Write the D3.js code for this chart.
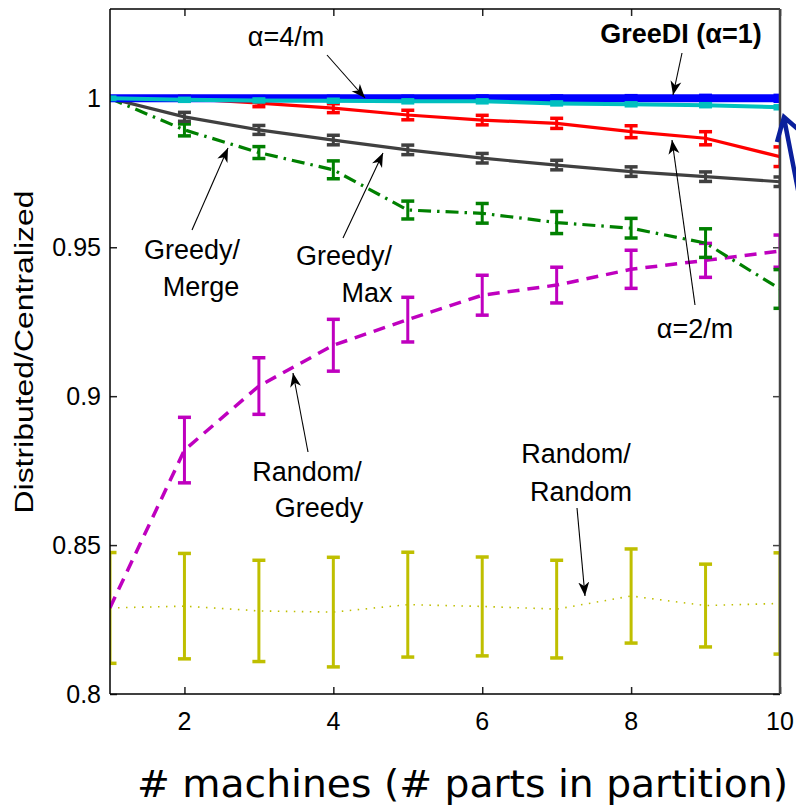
<!DOCTYPE html>
<html>
<head>
<meta charset="utf-8">
<script src="https://cdnjs.cloudflare.com/ajax/libs/d3/7.8.5/d3.min.js"></script>
<style>
	body { margin: 0; background: #fff; overflow: hidden; }
	text { font-family: 'Liberation Sans', Arial, sans-serif; }
</style>
</head>
<body>
<div id="chart"></div>
<script>
// Number of machines on the x axis
var machines = [1, 2, 3, 4, 5, 6, 7, 8, 9, 10];

// Mean ratio distributed/centralized and error bar half-heights, per method
var greeDIVals = [1.0, 1.0, 1.0, 1.0, 1.0, 1.0, 1.0, 1.0, 1.0, 1.0];
var greeDIErr = [0.0005, 0.0006, 0.0006, 0.0007, 0.0007, 0.0008, 0.0008, 0.0009, 0.001, 0.001];
var alpha4Vals = [1.0, 0.9995, 0.9993, 0.9992, 0.999, 0.999, 0.9983, 0.998, 0.9977, 0.997];
var alpha4Err = [0.0004, 0.0005, 0.0005, 0.0005, 0.0005, 0.0005, 0.0005, 0.0005, 0.0005, 0.0005];
var alpha2Vals = [1.0, 0.9999, 0.9984, 0.9967, 0.9944, 0.9927, 0.9916, 0.9888, 0.9866, 0.9804];
var alpha2Err = [0.0004, 0.0008, 0.0012, 0.0015, 0.0016, 0.0016, 0.0017, 0.002, 0.0022, 0.0033];
var greedyMaxVals = [1.0, 0.9938, 0.9894, 0.986, 0.9827, 0.9799, 0.9776, 0.9754, 0.9737, 0.972];
var greedyMaxErr = [0.0004, 0.0015, 0.0015, 0.0016, 0.0016, 0.0016, 0.0016, 0.0016, 0.0016, 0.0016];
var greedyMergeVals = [1.0, 0.9894, 0.9818, 0.976, 0.9625, 0.9614, 0.9583, 0.9564, 0.9514, 0.936];
var greedyMergeErr = [0.0004, 0.002, 0.002, 0.003, 0.003, 0.0033, 0.0037, 0.0033, 0.0048, 0.0065];
var randGreedyVals = [0.829, 0.8819, 0.9034, 0.9171, 0.9257, 0.9339, 0.9373, 0.9426, 0.9456, 0.9487];
var randGreedyErr = [0, 0.011, 0.0095, 0.0087, 0.0075, 0.0067, 0.006, 0.0064, 0.0057, 0.0054];
var randRandVals = [0.8289, 0.8295, 0.8279, 0.8275, 0.830, 0.8294, 0.8285, 0.8329, 0.8297, 0.8304];
var randRandErr = [0.0186, 0.0177, 0.017, 0.0184, 0.0176, 0.0166, 0.0164, 0.0158, 0.0139, 0.017];

// Tick values
var xTicks = [2, 4, 6, 8, 10];
var yTicks = [0.8, 0.85, 0.9, 0.95, 1];

// Set up svg width and height
var svgWidth = 796;
var svgHeight = 807;

// Plot box in pixels
var box = { left: 110, right: 780, top: 9, bottom: 694 };

var svg = d3.select('#chart').append('svg').attr('width', svgWidth).attr('height', svgHeight);

var xScale = d3.scaleLinear().domain([ 1, 10 ]).range([ box.left, box.right ]);
var yScale = d3.scaleLinear().domain([ 0.8, 1.03 ]).range([ box.bottom, box.top ]);

// Clip path so the error bars at x=1 and x=10 get cut by the box
svg.append('clipPath').attr('id', 'plotClip').append('rect')
	.attr('x', box.left).attr('y', box.top)
	.attr('width', box.right - box.left).attr('height', box.bottom - box.top);

// Arrow head marker
var defs = svg.append('defs');
defs.append('marker')
	.attr('id', 'head')
	.attr('viewBox', '-14 -6 16 12')
	.attr('refX', 0).attr('refY', 0)
	.attr('markerWidth', 16).attr('markerHeight', 12)
	.attr('markerUnits', 'userSpaceOnUse')
	.attr('orient', 'auto')
	.append('path')
	.attr('d', 'M0,0 L-14,-5.5 L-10,0 L-14,5.5 Z')
	.attr('fill', '#000');

// Axes: ticks pointing inwards on all four sides
var bottomAxis = d3.axisBottom(xScale).tickValues(xTicks).tickSize(-7).tickFormat('');
var topAxis = d3.axisTop(xScale).tickValues(xTicks).tickSize(-7).tickFormat('');
var leftAxis = d3.axisLeft(yScale).tickValues(yTicks).tickSize(-7).tickFormat('');
var rightAxis = d3.axisRight(yScale).tickValues(yTicks).tickSize(-7).tickFormat('');

function styleAxis(g, color, width) {
	g.select('.domain').remove();
	g.selectAll('.tick line').attr('stroke', color).attr('stroke-width', width);
}

svg.append('g').attr('transform', `translate(0, ${box.bottom})`).call(bottomAxis).call(styleAxis, '#222', 1.5);
svg.append('g').attr('transform', `translate(0, ${box.top})`).call(topAxis).call(styleAxis, '#222', 1.5);
svg.append('g').attr('transform', `translate(${box.left}, 0)`).call(leftAxis).call(styleAxis, '#222', 1.5);
svg.append('g').attr('transform', `translate(${box.right}, 0)`).call(rightAxis).call(styleAxis, '#444', 1.5);

// Series definitions (drawn in this order)
var series = [
	{ vals: randRandVals, err: randRandErr, color: '#bfbf00', width: 1.6, dash: '1.5,6.5', barWidth: 3 },
	{ vals: randGreedyVals, err: randGreedyErr, color: '#bf00bf', width: 3.5, dash: '12,8', barWidth: 3 },
	{ vals: greedyMergeVals, err: greedyMergeErr, color: '#008000', width: 3.2, dash: '13,6,2.5,6', barWidth: 3 },
	{ vals: greedyMaxVals, err: greedyMaxErr, color: '#404040', width: 3.2, dash: null, barWidth: 3 },
	{ vals: alpha2Vals, err: alpha2Err, color: '#ff0000', width: 3.2, dash: null, barWidth: 3 },
	{ vals: greeDIVals, err: greeDIErr, color: '#0000ff', width: 8, dash: null, barWidth: 4 },
	{ vals: alpha4Vals, err: alpha4Err, color: '#00bfbf', width: 4, dash: null, barWidth: 4 }
];

var plot = svg.append('g').attr('clip-path', 'url(#plotClip)');

var line = d3.line().x((d) => xScale(d.x)).y((d) => yScale(d.y));
var capHalf = 6.5;

series.forEach(function(s) {
	var pts = machines.map((m, i) => ({ x: m, y: s.vals[i], e: s.err[i] }));

	// Main line
	plot.append('path')
		.datum(pts)
		.attr('d', line)
		.attr('fill', 'none')
		.attr('stroke', s.color)
		.attr('stroke-width', s.width)
		.attr('stroke-dasharray', s.dash);

	// Error bars
	var bars = plot.append('g').selectAll('g').data(pts.filter((d) => d.e > 0)).enter().append('g');
	bars.append('line')
		.attr('x1', (d) => xScale(d.x)).attr('x2', (d) => xScale(d.x))
		.attr('y1', (d) => yScale(d.y - d.e)).attr('y2', (d) => yScale(d.y + d.e))
		.attr('stroke', s.color).attr('stroke-width', s.barWidth);
	[ -1, 1 ].forEach(function(sign) {
		bars.append('line')
			.attr('x1', (d) => xScale(d.x) - capHalf).attr('x2', (d) => xScale(d.x) + capHalf)
			.attr('y1', (d) => yScale(d.y + sign * d.e)).attr('y2', (d) => yScale(d.y + sign * d.e))
			.attr('stroke', s.color).attr('stroke-width', 3.5);
	});
});

// Box outline
svg.append('line').attr('x1', box.left).attr('x2', box.left).attr('y1', box.top).attr('y2', box.bottom)
	.attr('stroke', '#000').attr('stroke-width', 1.5);
svg.append('line').attr('x1', box.left).attr('x2', box.right).attr('y1', box.bottom).attr('y2', box.bottom)
	.attr('stroke', '#000').attr('stroke-width', 1.5);
svg.append('line').attr('x1', box.left).attr('x2', box.right).attr('y1', box.top).attr('y2', box.top)
	.attr('stroke', '#000').attr('stroke-width', 1.5);
svg.append('line').attr('x1', box.right).attr('x2', box.right).attr('y1', box.top).attr('y2', box.bottom)
	.attr('stroke', '#444').attr('stroke-width', 2.5);

// Tick labels
svg.append('g').selectAll('text').data(xTicks).enter().append('text')
	.attr('x', (d) => xScale(d)).attr('y', 730)
	.attr('text-anchor', 'middle').attr('font-size', '25px')
	.text((d) => d);

svg.append('g').selectAll('text').data(yTicks).enter().append('text')
	.attr('x', 101).attr('y', (d) => yScale(d) + 9)
	.attr('text-anchor', 'end').attr('font-size', '25px')
	.text((d) => d);

// Axis titles
svg.append('text')
	.attr('transform', 'translate(33, 352) rotate(-90)')
	.attr('text-anchor', 'middle').attr('font-size', '25px')
	.attr('textLength', 323).attr('lengthAdjust', 'spacingAndGlyphs')
	.text('Distributed/Centralized');

svg.append('text')
	.attr('x', 137).attr('y', 797)
	.attr('font-size', '37px')
	.style('font-family', "'DejaVu Sans', sans-serif")
	.attr('textLength', 651).attr('lengthAdjust', 'spacingAndGlyphs')
	.text('# machines (# parts in partition)');

// Annotation labels: [text, center x, baseline y, bold]
var labels = [
	[ 'α=4/m', 286, 46, false ],
	[ 'GreeDI (α=1)', 681, 43, true ],
	[ 'Greedy/', 192, 259, false ],
	[ 'Merge', 201, 296, false ],
	[ 'Greedy/', 344, 265, false ],
	[ 'Max', 367, 302, false ],
	[ 'α=2/m', 695, 338, false ],
	[ 'Random/', 307, 481, false ],
	[ 'Greedy', 319, 517, false ],
	[ 'Random/', 576, 463, false ],
	[ 'Random', 581, 501, false ]
];

svg.append('g').selectAll('text').data(labels).enter().append('text')
	.attr('x', (d) => d[1]).attr('y', (d) => d[2])
	.attr('text-anchor', 'middle').attr('font-size', '27px')
	.attr('font-weight', (d) => (d[3] ? 'bold' : 'normal'))
	.text((d) => d[0]);

// Annotation arrows: [x1, y1, x2 (tip), y2 (tip)]
var arrows = [
	[ 327, 55, 365, 98 ],
	[ 682, 53, 673, 95 ],
	[ 192, 230, 228, 148 ],
	[ 343, 238, 383, 153 ],
	[ 695, 305, 672, 140 ],
	[ 308, 452, 293, 373 ],
	[ 577, 508, 585, 596 ]
];

svg.append('g').selectAll('line').data(arrows).enter().append('line')
	.attr('x1', (d) => d[0]).attr('y1', (d) => d[1])
	.attr('x2', (d) => d[2]).attr('y2', (d) => d[3])
	.attr('stroke', '#000').attr('stroke-width', 1.1)
	.attr('marker-end', 'url(#head)');

// Partial navy arrow poking in from the right edge
svg.append('path')
	.attr('d', 'M800,200 L784,118 M777,142 L784,117 L801,132')
	.attr('fill', 'none')
	.attr('stroke', '#0a1f9c')
	.attr('stroke-width', 4.5)
	.attr('stroke-linejoin', 'miter');
</script>
</body>
</html>
